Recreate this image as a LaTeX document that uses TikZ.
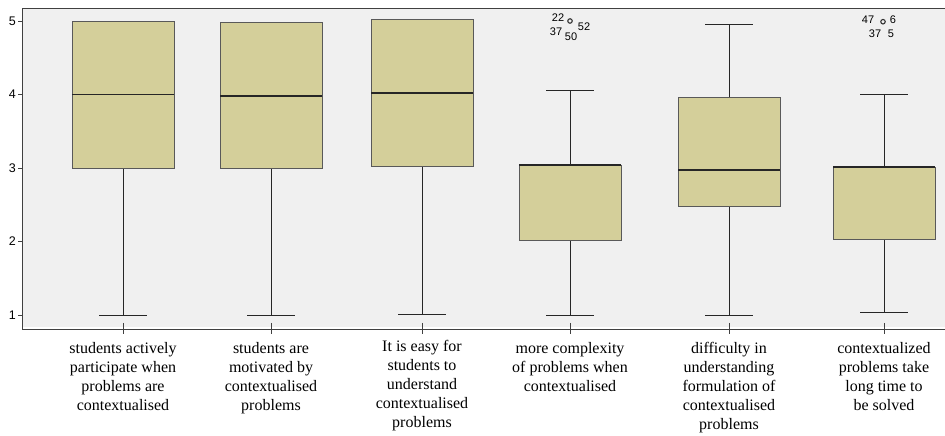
\documentclass[tikz,border=0pt]{standalone}
\usepackage{fontspec}
\setmainfont{Liberation Serif}
\newfontfamily\axisfont{Liberation Sans}
\usetikzlibrary{positioning}

\definecolor{boxfill}{RGB}{212,207,154}
\definecolor{plotbg}{RGB}{240,240,240}

\tikzset{
  boxbody/.style={fill=boxfill, draw=black!65, line width=0.8pt},
  medianline/.style={line width=1.8pt, black!85},
  whisker/.style={line width=0.9pt, black!85},
  catlabel/.style={align=center, anchor=north, inner sep=0pt,
    font=\fontsize{16}{19}\selectfont},
  ticklabel/.style={anchor=east, inner sep=0pt, font=\axisfont\fontsize{12.5}{12.5}\selectfont},
  outlabel/.style={inner sep=0pt, font=\axisfont\fontsize{11}{11}\selectfont},
  outlier/.style={draw=black!80, line width=1.1pt, circle, inner sep=0pt, minimum size=4.5pt},
}

\begin{document}
\begin{tikzpicture}[x=1pt, y=1pt]
    \useasboundingbox (0,0) rectangle (945,436);
    \fill[white] (0,0) rectangle (945,436);

    % plot area
    \fill[plotbg] (22,109) rectangle (945,427);
    \draw[black!75, line width=1pt] (945,427) -- (22,427) -- (22,106) -- (945,106);

    % value axis
    \begin{scope}[shift={(0,47.5)}, y=73.5pt]
      \foreach \v in {1,...,5}{
        \draw[black!75, line width=0.8pt] (18,\v) -- (22,\v);
        \node[ticklabel] (tick\v) at (16,\v) {\v};
      }

      % boxes: centre / low / q1 / median / q3 / high
      \foreach \c/\lo/\qa/\md/\qb/\hi in {123/1/3/4/5/5, 271/1/2.99/3.98/4.98/4.98,
          422/1.01/3.02/4.02/5.02/5.02, 570/1/2.02/3.04/3.04/4.05,
          729/1/2.48/2.97/3.96/4.95, 884/1.04/2.03/3.01/3.01/4.0}{
        \draw[whisker] (\c,\lo) -- (\c,\qa) (\c-24,\lo) -- (\c+24,\lo);
        \draw[whisker] (\c,\qb) -- (\c,\hi) (\c-24,\hi) -- (\c+24,\hi);
        \draw[boxbody] (\c-51,\qa) rectangle (\c+51,\qb);
        \draw[medianline] (\c-51,\md) -- (\c+51,\md);
      }

      % outliers
      \node[outlier] (out4) at (570,5.0) {};
      \node[outlier] (out6) at (883,4.99) {};
    \end{scope}

    \node[outlabel] (o22) at (558,418) {22};
    \node[outlabel] (o52) at (584,409) {52};
    \node[outlabel] (o37a) at (556,404) {37};
    \node[outlabel] (o50) at (571,399) {50};
    \node[outlabel] (o47) at (868,416) {47};
    \node[outlabel] (o6) at (893,416) {6};
    \node[outlabel] (o37b) at (875,402) {37};
    \node[outlabel] (o5) at (891,402) {5};

    % category ticks
    \foreach \c in {123,271,422,570,729,884}
      \draw[black!75, line width=0.9pt] (\c,113) -- (\c,102);

    % category labels
    \node[catlabel] (cat1) at (123,94) {students actively\\participate when\\problems are\\contextualised};
    \node[catlabel] (cat2) at (271,94) {students are\\motivated by\\contextualised\\problems};
    \node[catlabel] (cat3) at (422,96) {It is easy for\\students to\\understand\\contextualised\\problems};
    \node[catlabel] (cat4) at (570,94) {more complexity\\of problems when\\contextualised};
    \node[catlabel] (cat5) at (729,94) {difficulty in\\understanding\\formulation of\\contextualised\\problems};
    \node[catlabel] (cat6) at (884,94) {contextualized\\problems take\\long time to\\be solved};
  \end{tikzpicture}
\end{document}
